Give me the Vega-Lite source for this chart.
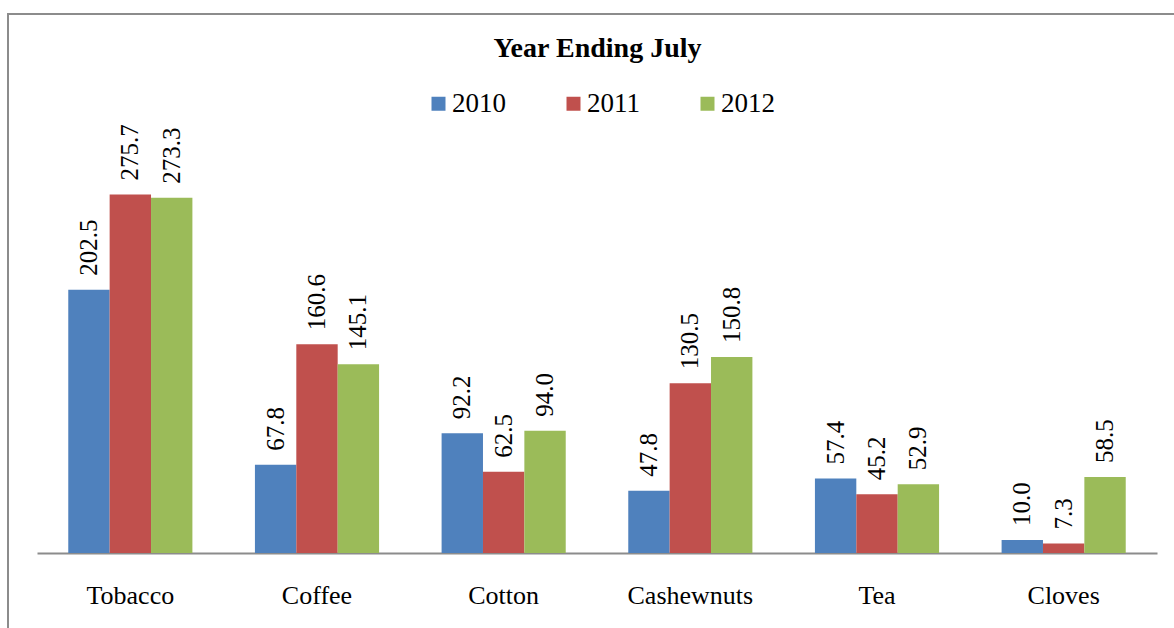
{
  "$schema": "https://vega.github.io/schema/vega-lite/v6.json",
  "width": 1167,
  "height": 615,
  "autosize": {"type": "none"},
  "padding": {"left": 8, "top": 14, "right": 0, "bottom": 0},
  "background": "white",
  "title": {
    "text": "Year Ending July",
    "font": "Liberation Serif",
    "fontSize": 28,
    "fontWeight": "bold",
    "color": "black",
    "anchor": "middle",
    "frame": "group",
    "offset": -49,
    "dx": 6
  },
  "config": {
    "font": "Liberation Serif",
    "view": {"stroke": "#8c8c8c", "strokeWidth": 2}
  },
  "data": {
    "values": [
      {"commodity": "Tobacco", "year": "2010", "value": 202.5},
      {"commodity": "Tobacco", "year": "2011", "value": 275.7},
      {"commodity": "Tobacco", "year": "2012", "value": 273.3},
      {"commodity": "Coffee", "year": "2010", "value": 67.8},
      {"commodity": "Coffee", "year": "2011", "value": 160.6},
      {"commodity": "Coffee", "year": "2012", "value": 145.1},
      {"commodity": "Cotton", "year": "2010", "value": 92.2},
      {"commodity": "Cotton", "year": "2011", "value": 62.5},
      {"commodity": "Cotton", "year": "2012", "value": 94.0},
      {"commodity": "Cashewnuts", "year": "2010", "value": 47.8},
      {"commodity": "Cashewnuts", "year": "2011", "value": 130.5},
      {"commodity": "Cashewnuts", "year": "2012", "value": 150.8},
      {"commodity": "Tea", "year": "2010", "value": 57.4},
      {"commodity": "Tea", "year": "2011", "value": 45.2},
      {"commodity": "Tea", "year": "2012", "value": 52.9},
      {"commodity": "Cloves", "year": "2010", "value": 10.0},
      {"commodity": "Cloves", "year": "2011", "value": 7.3},
      {"commodity": "Cloves", "year": "2012", "value": 58.5}
    ]
  },
  "encoding": {
    "x": {
      "field": "commodity",
      "type": "nominal",
      "sort": ["Tobacco", "Coffee", "Cotton", "Cashewnuts", "Tea", "Cloves"],
      "scale": {"range": [29, 1149], "paddingInner": 0.335, "paddingOuter": 0.1675},
      "axis": {
        "orient": "bottom",
        "offset": -76,
        "title": null,
        "labelAngle": 0,
        "ticks": false,
        "tickSize": 0,
        "domainColor": "#8c8c8c",
        "domainWidth": 2,
        "labelFont": "Liberation Serif",
        "labelFontSize": 26,
        "labelColor": "black",
        "labelPadding": 29
      }
    },
    "xOffset": {
      "field": "year",
      "type": "nominal",
      "scale": {"paddingInner": 0, "paddingOuter": 0}
    },
    "y": {
      "field": "value",
      "type": "quantitative",
      "scale": {"domain": [-58.46, 414.62], "nice": false, "zero": false},
      "axis": null
    },
    "color": {
      "field": "year",
      "type": "nominal",
      "scale": {"domain": ["2010", "2011", "2012"], "range": ["#4F81BD", "#C0504D", "#9BBB59"]},
      "legend": {
        "orient": "none",
        "legendX": 417,
        "legendY": 76,
        "direction": "horizontal",
        "columns": 3,
        "title": null,
        "symbolType": "square",
        "symbolSize": 196,
        "symbolStrokeWidth": 0,
        "symbolOpacity": 1,
        "labelFont": "Liberation Serif",
        "labelFontSize": 27,
        "labelColor": "black",
        "labelOffset": 0,
        "columnPadding": 54
      }
    }
  },
  "layer": [
    {"mark": {"type": "bar", "opacity": 1}},
    {
      "mark": {
        "type": "text",
        "angle": -90,
        "align": "left",
        "baseline": "middle",
        "dx": 14,
        "font": "Liberation Serif",
        "fontSize": 25,
        "color": "black"
      },
      "encoding": {
        "text": {"field": "value", "type": "quantitative", "format": ".1f"},
        "color": {"value": "black"}
      }
    }
  ]
}
